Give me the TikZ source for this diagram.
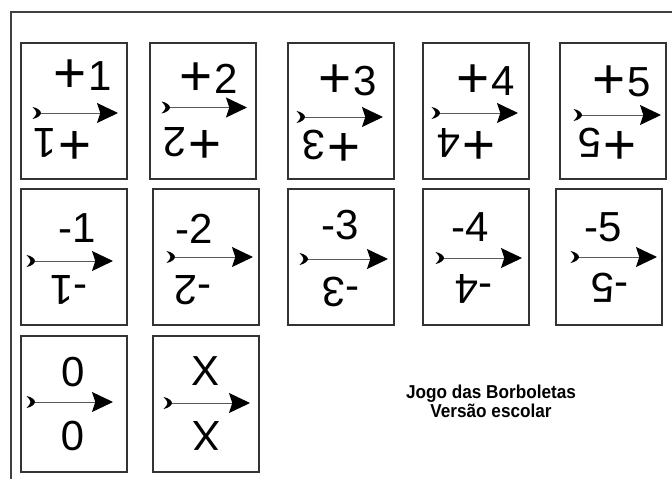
\documentclass[tikz,border=0pt]{standalone}
\usepackage{fontspec}
\setmainfont{Liberation Sans}
\newfontfamily\titlefont[FakeStretch=0.92]{Liberation Sans}
\usetikzlibrary{arrows.meta}
\newcommand\pl{\raisebox{-0.05em}{\scalebox{1.35}{+}}\kern0.05em}
\tikzset{
  cardbox/.style={draw=black!80, line width=0.8pt, minimum width=79.5pt, minimum height=102pt, inner sep=0pt},
  num/.style={font=\fontsize{31.5}{31.5}\selectfont, inner sep=0pt},
  shaft/.style={draw=black!65, line width=0.75pt, -{Stealth[length=15.75pt, width=15pt, inset=2.5pt, color=black]}},
  fletch/.style={fill=black},
  frameline/.style={draw=black!75, line width=0.8pt},
  titletext/.style={font=\titlefont\bfseries\fontsize{14}{12.75}\selectfont, align=center, inner sep=0pt}
}
\begin{document}
\begin{tikzpicture}[x=0.75pt,y=-0.75pt]
\useasboundingbox (0,0) rectangle (672,479);
\draw[frameline] (672,12) -- (11,12) -- (11,479);
\foreach \n/\bx/\by/\lab/\ux/\uy/\dx/\dy/\ay/\tx/\hx in {
  1/21/43/{\pl1}/83/76.5/62.5/143/113/41/118,
  2/150/43/{\pl2}/208.5/79/192.5/142/107.5/170/247,
  3/288/43/{\pl3}/347.5/81/331/145/117/305/383,
  4/423/43/{\pl4}/486/81/466/143/113/440/518,
  5/560/43/{\pl5}/622/82.5/607/143/115/582/661,
  6/21/189/{-1}/77/228/69/290/261/35/113,
  7/153/189/{-2}/194/229/193/290/257/175/253,
  8/288/189/{-3}/340/225/341/292/259/308/388,
  9/423/189/{-4}/470/227/474/289/258/444/522,
  10/556/189/{-5}/603/227/610/288/257/579/657,
  11/21/336/{0}/73/372/73/436/402/35/113,
  12/153/336/{X}/206/371/206/436/403/172/250}
{
  \node[cardbox] (card\n) at ({\bx+53},{\by+68}) {};
  \node[num] (up\n) at (\ux,\uy) {\lab};
  \node[num, rotate=180] (dn\n) at (\dx,\dy) {\lab};
  \coordinate (t\n) at (\tx,\ay);
  \coordinate (h\n) at (\hx,\ay);
  \draw[shaft] (t\n) -- (h\n);
  \fill[fletch, shift={(t\n)}] (-8.5,-6) .. controls (-3,-5) and (0,-2) .. (0,0)
     .. controls (0,2) and (-3,5) .. (-8.5,6)
     .. controls (-5.5,3) and (-4.5,1) .. (-4.5,0)
     .. controls (-4.5,-1) and (-5.5,-3) .. (-8.5,-6) -- cycle;
}
\node[titletext, anchor=north] (title) at (491,384.5) {Jogo das Borboletas\\Versão escolar};
\end{tikzpicture}
\end{document}
